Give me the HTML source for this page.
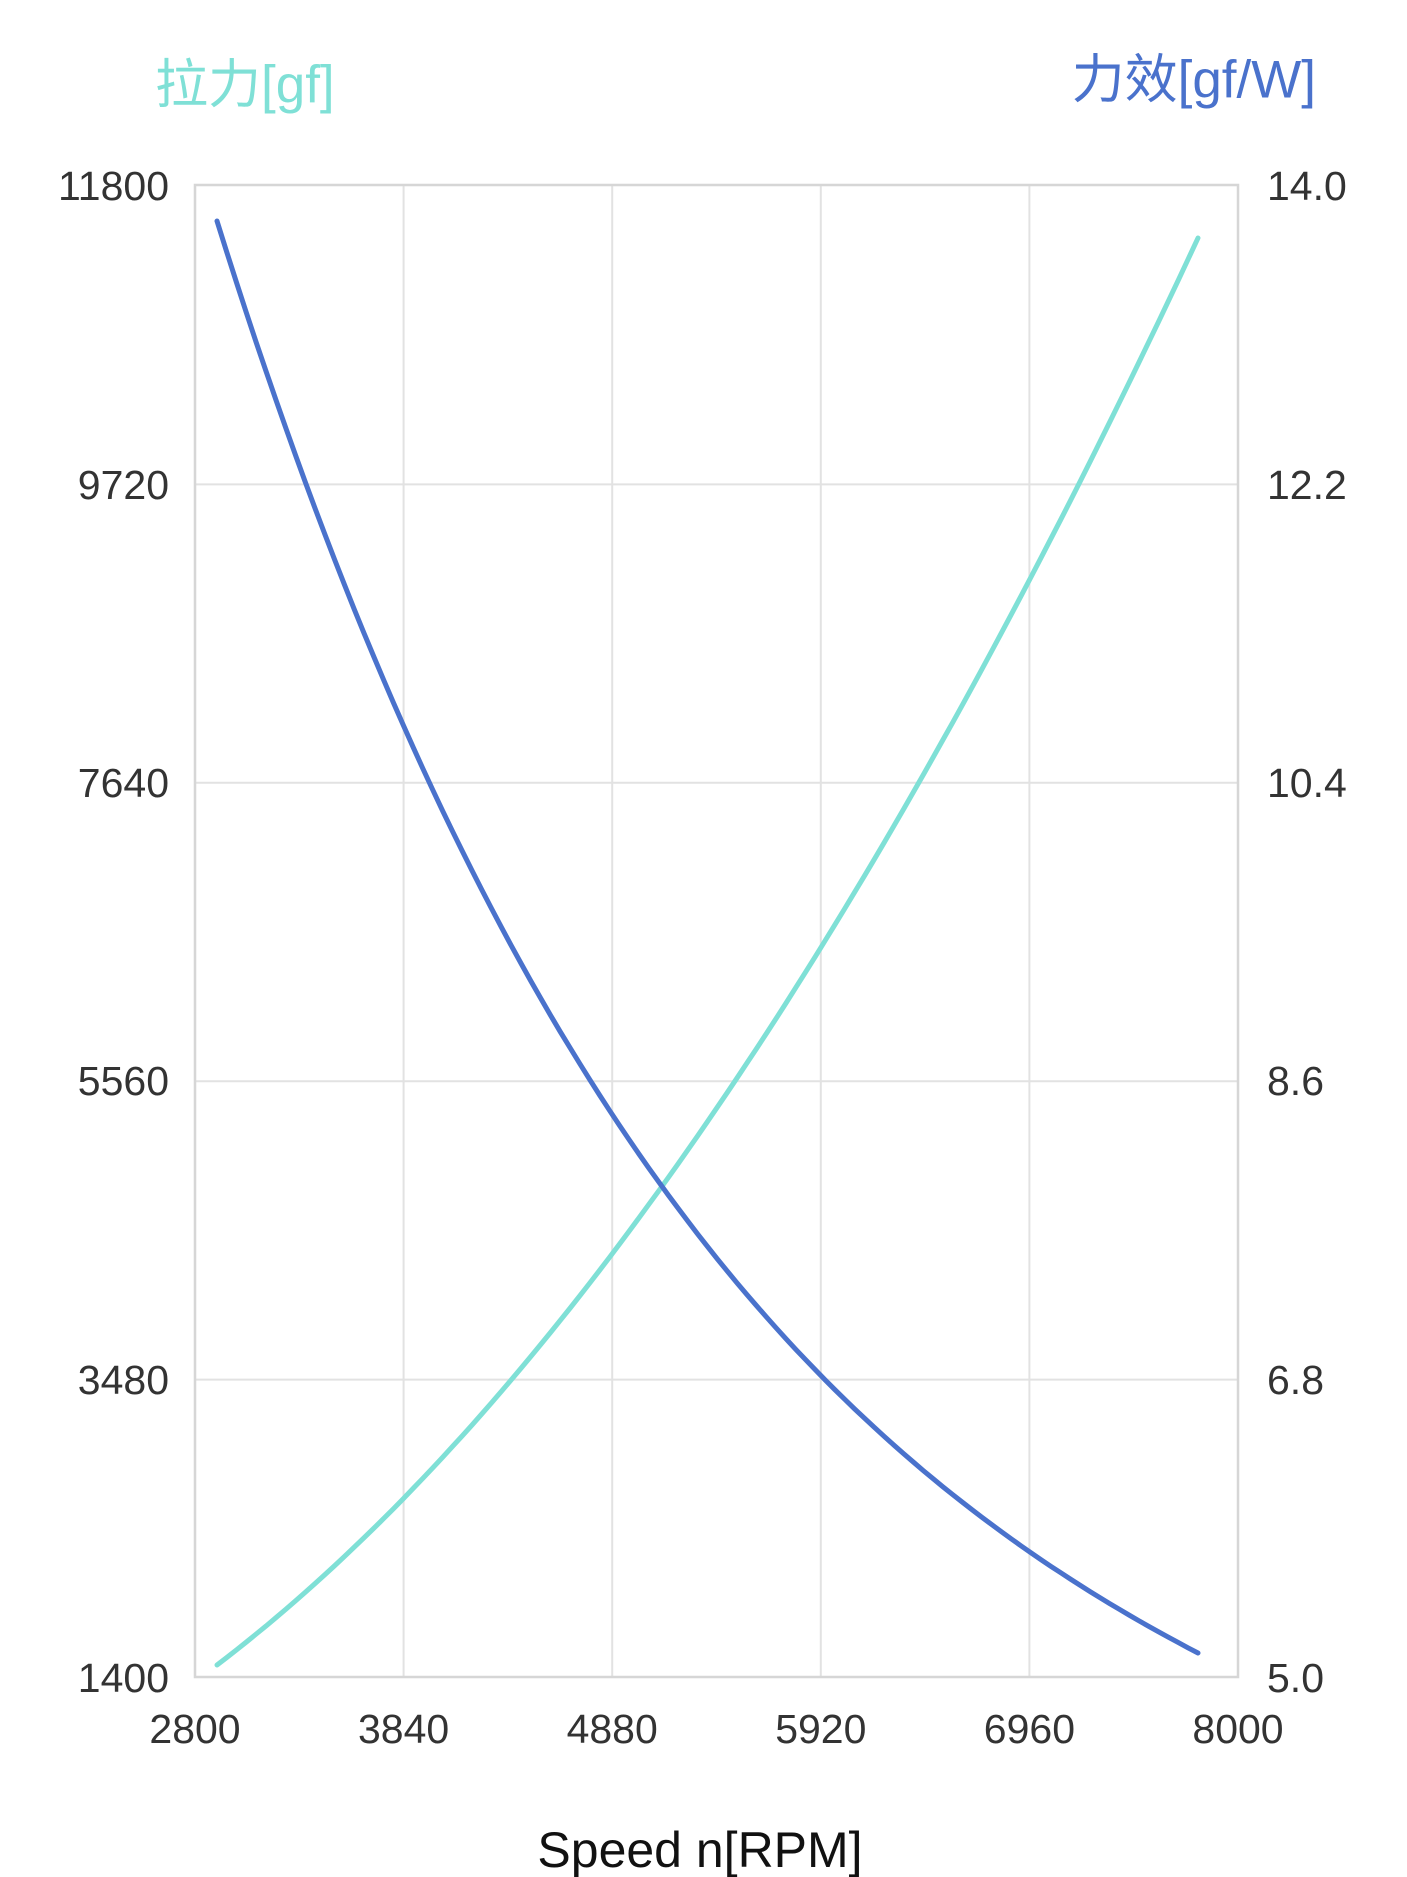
<!DOCTYPE html>
<html><head><meta charset="utf-8"><style>
html,body{margin:0;padding:0;background:#fff;}
svg{display:block;}
text{font-family:"Liberation Sans","Noto Sans CJK SC",sans-serif;}
</style></head><body>
<svg id="s" width="1407" height="1877" viewBox="0 0 1407 1877" xmlns="http://www.w3.org/2000/svg">
<g stroke="#e2e2e2" stroke-width="2">
<line x1="403.6" y1="185" x2="403.6" y2="1677"/>
<line x1="612.2" y1="185" x2="612.2" y2="1677"/>
<line x1="820.8" y1="185" x2="820.8" y2="1677"/>
<line x1="1029.4" y1="185" x2="1029.4" y2="1677"/>
<line x1="195" y1="484.4" x2="1238" y2="484.4"/>
<line x1="195" y1="782.8" x2="1238" y2="782.8"/>
<line x1="195" y1="1081.2" x2="1238" y2="1081.2"/>
<line x1="195" y1="1379.6" x2="1238" y2="1379.6"/>
</g>
<rect x="195" y="185" width="1043" height="1492" fill="none" stroke="#d6d6d6" stroke-width="2.5"/>
<path id="cy" fill="none" stroke="#7fe0d6" stroke-width="5" stroke-linecap="round"/>
<path id="bl" fill="none" stroke="#4a72cc" stroke-width="5" stroke-linecap="round"/>
<g font-size="41" fill="#333" text-anchor="end" dominant-baseline="central">
<text x="169" y="186">11800</text><text x="169" y="485">9720</text><text x="169" y="783">7640</text>
<text x="169" y="1081">5560</text><text x="169" y="1380">3480</text><text x="169" y="1678">1400</text>
</g>
<g font-size="41" fill="#333" dominant-baseline="central">
<text x="1267" y="186">14.0</text><text x="1267" y="485">12.2</text><text x="1267" y="783">10.4</text>
<text x="1267" y="1081">8.6</text><text x="1267" y="1380">6.8</text><text x="1267" y="1678">5.0</text>
</g>
<g font-size="41" fill="#333" text-anchor="middle" dominant-baseline="central">
<text x="195" y="1729">2800</text><text x="403.6" y="1729">3840</text><text x="612.2" y="1729">4880</text>
<text x="820.8" y="1729">5920</text><text x="1029.4" y="1729">6960</text><text x="1238" y="1729">8000</text>
</g>
<text x="700" y="1850" font-size="50" fill="#111" text-anchor="middle" dominant-baseline="central">Speed n[RPM]</text>
<text x="155" y="85" font-size="53" fill="#7fe0d6" dominant-baseline="central">拉力[gf]</text>
<text x="1316" y="80" font-size="53" fill="#4a72cc" text-anchor="end" dominant-baseline="central">力效[gf/W]</text>
</svg>
<script>
var x0=217,x1=1198,c="",b="";
for(var i=0;i<=100;i++){var t=i/100,x=x0+(x1-x0)*t;
var yc=1665-(746.7*t+680.3*t*t);
var yb=221+1715.6*(1-Math.exp(-1.8*t))+60*t*(1-t)*(1-t);
c+=(i?"L":"M")+x.toFixed(1)+" "+yc.toFixed(1);
b+=(i?"L":"M")+x.toFixed(1)+" "+yb.toFixed(1);}
document.getElementById("cy").setAttribute("d",c);
document.getElementById("bl").setAttribute("d",b);
</script>
</body></html>
